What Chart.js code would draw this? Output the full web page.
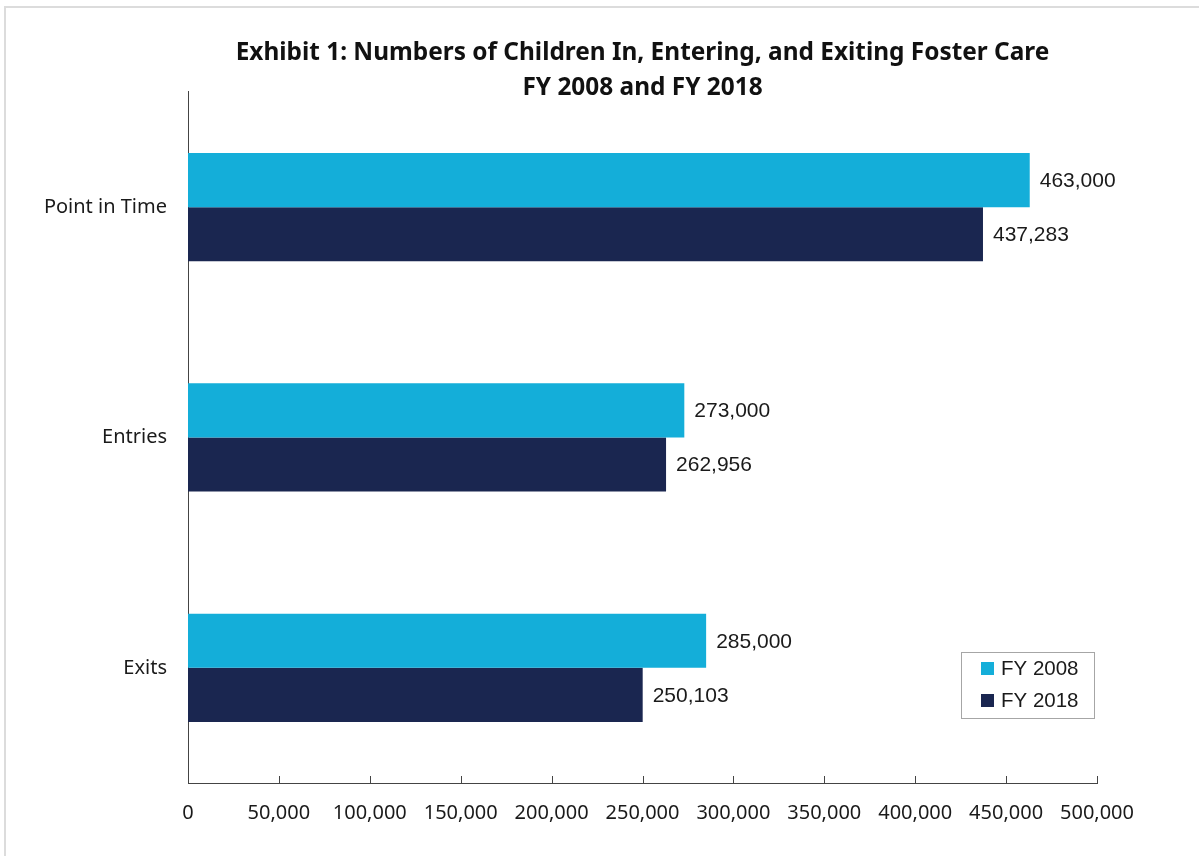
<!DOCTYPE html>
<html lang="en">
<head>
  <meta charset="UTF-8">
  <title>Exhibit 1: Numbers of Children In, Entering, and Exiting Foster Care</title>
  <script src="https://cdn.jsdelivr.net/npm/chart.js"></script>
  <style>
    body {
      margin: 0;
      background: #ffffff;
      overflow: hidden;
    }
    .frame {
      position: absolute;
      left: 4px;
      top: 6px;
      width: 1300px;
      height: 1000px;
      border-left: 2px solid #dcdcdc;
      border-top: 2px solid #dcdcdc;
      pointer-events: none;
    }
    canvas {
      position: absolute;
      left: 0;
      top: 0;
    }
  </style>
</head>
<body>
  <canvas id="fosterChart" width="1199" height="856"></canvas>
  <div class="frame"></div>

  <script>
    var categories = ['Point in Time', 'Entries', 'Exits'];
    var fy2008 = [463000, 273000, 285000];
    var fy2018 = [437283, 262956, 250103];
    var xTicks = [0, 50000, 100000, 150000, 200000, 250000, 300000, 350000, 400000, 450000, 500000];

    var cyan = '#14aed9';
    var navy = '#1a2650';
    var axisColor = '#444444';

    function fmt(v) {
      return v.toLocaleString('en-US');
    }

    // value labels at the end of each bar
    var valueLabels = {
      id: 'valueLabels',
      afterDatasetsDraw: function (chart) {
        var ctx = chart.ctx;
        ctx.save();
        ctx.font = '21px "Liberation Sans", Arial, sans-serif';
        ctx.fillStyle = '#1a1a1a';
        ctx.textAlign = 'left';
        ctx.textBaseline = 'middle';
        chart.data.datasets.forEach(function (ds, i) {
          chart.getDatasetMeta(i).data.forEach(function (bar, j) {
            ctx.fillText(fmt(ds.data[j]), bar.x + 10, bar.y + 1);
          });
        });
        ctx.restore();
      }
    };

    // inward tick marks on the x axis
    var innerTicks = {
      id: 'innerTicks',
      afterDraw: function (chart) {
        var ctx = chart.ctx;
        var xs = chart.scales.x;
        ctx.save();
        ctx.strokeStyle = axisColor;
        ctx.lineWidth = 1;
        xs.ticks.forEach(function (t, i) {
          if (i === 0) return;
          var px = Math.round(xs.getPixelForTick(i)) + 0.5;
          ctx.beginPath();
          ctx.moveTo(px, xs.top);
          ctx.lineTo(px, xs.top - 7);
          ctx.stroke();
        });
        ctx.restore();
      }
    };

    // boxed legend inside the plot, bottom right
    var boxLegend = {
      id: 'boxLegend',
      afterDraw: function (chart) {
        var ctx = chart.ctx;
        var left = 961, top = 652, w = 133, h = 66;
        ctx.save();
        ctx.fillStyle = '#ffffff';
        ctx.fillRect(left, top, w, h);
        ctx.strokeStyle = '#a6a6a6';
        ctx.lineWidth = 1;
        ctx.strokeRect(left + 0.5, top + 0.5, w, h);
        ctx.font = '20.5px "Liberation Sans", Arial, sans-serif';
        ctx.textBaseline = 'middle';
        ctx.textAlign = 'left';
        chart.data.datasets.forEach(function (ds, i) {
          var cy = top + 16 + i * 32;
          ctx.fillStyle = ds.backgroundColor;
          ctx.fillRect(left + 20, cy - 6, 13, 13);
          ctx.fillStyle = '#1a1a1a';
          ctx.fillText(ds.label, left + 40, cy + 1);
        });
        ctx.restore();
      }
    };

    var ctx = document.getElementById('fosterChart').getContext('2d');

    var fosterChart = new Chart(ctx, {
      type: 'bar',
      data: {
        labels: categories,
        datasets: [
          {
            label: 'FY 2008',
            data: fy2008,
            backgroundColor: cyan,
            categoryPercentage: 0.47,
            barPercentage: 1.0
          },
          {
            label: 'FY 2018',
            data: fy2018,
            backgroundColor: navy,
            categoryPercentage: 0.47,
            barPercentage: 1.0
          }
        ]
      },
      options: {
        indexAxis: 'y',
        responsive: false,
        animation: false,
        layout: {
          padding: { left: 0, right: 102, top: 0, bottom: 0 }
        },
        scales: {
          x: {
            min: 0,
            max: 500000,
            afterBuildTicks: function (scale) {
              scale.ticks = xTicks.map(function (v) { return { value: v }; });
            },
            afterFit: function (scale) {
              scale.height = 73;
            },
            grid: { display: false, drawTicks: false },
            border: { display: true, color: axisColor, width: 1 },
            ticks: {
              color: '#1a1a1a',
              padding: 18,
              maxRotation: 0,
              autoSkip: false,
              font: { family: '"Noto Sans", sans-serif', size: 20 },
              callback: function (v) { return fmt(v); }
            }
          },
          y: {
            afterFit: function (scale) {
              scale.width = 188;
            },
            grid: { display: false, drawTicks: false },
            border: { display: true, color: axisColor, width: 1 },
            ticks: {
              color: '#1a1a1a',
              padding: 21,
              font: { family: '"Noto Sans", sans-serif', size: 20 }
            }
          }
        },
        plugins: {
          legend: { display: false },
          tooltip: { enabled: false },
          title: {
            display: true,
            fullSize: false,
            text: ['Exhibit 1: Numbers of Children In, Entering, and Exiting Foster Care', 'FY 2008 and FY 2018'],
            color: '#111111',
            font: { family: '"Noto Sans", sans-serif', size: 24.4, weight: 'bold', lineHeight: 1.434 },
            padding: { top: 36, bottom: -14 }
          }
        }
      },
      plugins: [valueLabels, innerTicks, boxLegend]
    });
  </script>
</body>
</html>
